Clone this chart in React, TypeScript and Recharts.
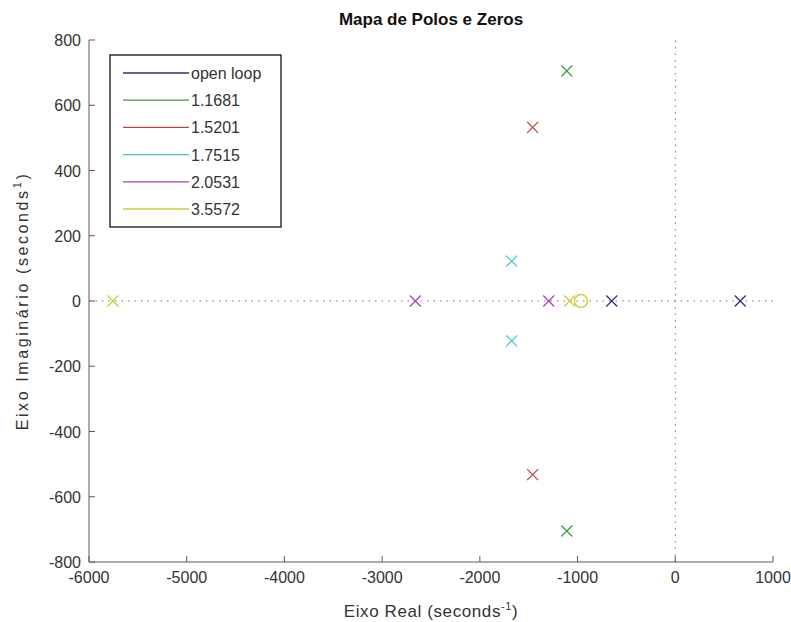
import React from 'react';
import { ScatterChart, Scatter, XAxis, YAxis, ReferenceLine } from 'recharts';

// ---- data ----
const xTicks = [-6000, -5000, -4000, -3000, -2000, -1000, 0, 1000];
const yTicks = [-800, -600, -400, -200, 0, 200, 400, 600, 800];

const seriesNames = ['open loop', '1.1681', '1.5201', '1.7515', '2.0531', '3.5572'];
const seriesColors = ['#2e2e7c', '#3f9a4c', '#b84545', '#45c4c4', '#a046ae', '#cccc3a'];

const polesOpenLoop = [{ x: -650, y: 0 }, { x: 665, y: 0 }];
const poles11681 = [{ x: -1110, y: 705 }, { x: -1110, y: -705 }];
const poles15201 = [{ x: -1460, y: 532 }, { x: -1460, y: -532 }];
const poles17515 = [{ x: -1675, y: 122 }, { x: -1675, y: -122 }];
const poles20531 = [{ x: -2660, y: 0 }, { x: -1295, y: 0 }];
const poles35572 = [{ x: -5755, y: 0 }, { x: -1080, y: 0 }];
const zerosAll = [{ x: -965, y: 0 }];

const poleSets = [polesOpenLoop, poles11681, poles15201, poles17515, poles20531, poles35572];

const W = 791;
const H = 622;
const FONT = '"Liberation Sans", Arial, Helvetica, sans-serif';
const AXIS = '#5a5a5a';
const TXT = '#333333';
const FS = 16;

const makeX = (color: string) => (props: any) => {
  const { cx, cy } = props;
  const s = 5.5;
  return (
    <g>
      <line x1={cx - s} y1={cy - s} x2={cx + s} y2={cy + s} stroke={color} strokeWidth={1.2} />
      <line x1={cx - s} y1={cy + s} x2={cx + s} y2={cy - s} stroke={color} strokeWidth={1.2} />
    </g>
  );
};

const makeO = (color: string) => (props: any) => {
  const { cx, cy } = props;
  return <circle cx={cx} cy={cy} r={6.5} fill="none" stroke={color} strokeWidth={1.4} />;
};

const BottomTick = (props: any) => {
  const { x, y, payload } = props;
  return (
    <g>
      <line x1={x} x2={x} y1={y} y2={y - 6} stroke={AXIS} />
      <text x={x} y={y + 21} textAnchor="middle" fontSize={FS} fill={TXT} fontFamily={FONT}>
        {payload.value}
      </text>
    </g>
  );
};
const TopTick = (props: any) => {
  const { x, y } = props;
  return <line x1={x} x2={x} y1={y} y2={y + 6} stroke={AXIS} />;
};
const LeftTick = (props: any) => {
  const { x, y, payload } = props;
  return (
    <g>
      <line x1={x} x2={x + 6} y1={y} y2={y} stroke={AXIS} />
      <text x={x - 8} y={y + 6} textAnchor="end" fontSize={FS} fill={TXT} fontFamily={FONT}>
        {payload.value}
      </text>
    </g>
  );
};
const RightTick = (props: any) => {
  const { x, y } = props;
  return <line x1={x} x2={x - 6} y1={y} y2={y} stroke={AXIS} />;
};

export default function App() {
  const legendTop = 55;
  const rowH = 27.2;
  return (
    <div style={{ position: 'absolute', left: 0, top: 0, width: W, height: H, background: '#fff' }}>
      <ScatterChart width={W} height={H} margin={{ top: 40, right: 18, bottom: 0, left: 0 }}>
        <XAxis
          xAxisId="b"
          dataKey="x"
          type="number"
          domain={[-6000, 1000]}
          ticks={xTicks}
          orientation="bottom"
          height={60}
          tickSize={0}
          tickMargin={0}
          tickLine={false}
          axisLine={{ stroke: AXIS }}
          tick={<BottomTick />}
          interval={0}
        />
        <XAxis
          xAxisId="t"
          type="number"
          domain={[-6000, 1000]}
          ticks={xTicks}
          orientation="top"
          height={0}
          tickSize={0}
          tickMargin={0}
          tickLine={false}
          axisLine={{ stroke: AXIS }}
          tick={<TopTick />}
          interval={0}
        />
        <YAxis
          yAxisId="l"
          dataKey="y"
          type="number"
          domain={[-800, 800]}
          ticks={yTicks}
          orientation="left"
          width={89}
          tickSize={0}
          tickMargin={0}
          tickLine={false}
          axisLine={{ stroke: AXIS }}
          tick={<LeftTick />}
          interval={0}
        />
        <YAxis
          yAxisId="r"
          type="number"
          domain={[-800, 800]}
          ticks={yTicks}
          orientation="right"
          width={0}
          tickSize={0}
          tickMargin={0}
          tickLine={false}
          axisLine={{ stroke: AXIS }}
          tick={<RightTick />}
          interval={0}
        />
        <ReferenceLine xAxisId="b" yAxisId="l" y={0} stroke="#777" strokeDasharray="1.5 5" />
        <ReferenceLine xAxisId="b" yAxisId="l" x={0} stroke="#777" strokeDasharray="1.5 5" />
        {poleSets.map((pts, i) => (
          <Scatter
            key={seriesNames[i]}
            name={seriesNames[i]}
            xAxisId="b"
            yAxisId="l"
            data={pts}
            shape={makeX(seriesColors[i])}
            isAnimationActive={false}
          />
        ))}
        <Scatter
          name="zeros"
          xAxisId="b"
          yAxisId="l"
          data={zerosAll}
          shape={makeO(seriesColors[5])}
          isAnimationActive={false}
        />
      </ScatterChart>
      <svg
        width={W}
        height={H}
        style={{ position: 'absolute', left: 0, top: 0, pointerEvents: 'none' }}
        fontFamily={FONT}
      >
        <text x={431} y={25} textAnchor="middle" fontSize={17} fontWeight="bold" fill="#111">
          Mapa de Polos e Zeros
        </text>
        <text x={431} y={617} textAnchor="middle" fontSize={17} letterSpacing={0.6} fill={TXT}>
          Eixo Real (seconds
          <tspan fontSize={11} dy={-7}>-1</tspan>
          <tspan dy={7}>)</tspan>
        </text>
        <text
          x={0}
          y={0}
          transform="translate(28,301) rotate(-90)"
          textAnchor="middle"
          fontSize={FS}
          letterSpacing={2.6}
          fill={TXT}
        >
          Eixo Imaginário (seconds
          <tspan fontSize={11} dy={-7}>1</tspan>
          <tspan dy={7}>)</tspan>
        </text>
        <rect x={110} y={legendTop} width={171} height={172} fill="#fff" stroke="#111" strokeWidth={1.3} />
        {seriesNames.map((n, i) => {
          const cy = legendTop + 18 + i * rowH;
          return (
            <g key={n}>
              <line x1={123} x2={189} y1={cy} y2={cy} stroke={seriesColors[i]} strokeWidth={1.3} />
              <text x={191} y={cy + 6} fontSize={FS} fill={TXT}>
                {n}
              </text>
            </g>
          );
        })}
      </svg>
    </div>
  );
}
